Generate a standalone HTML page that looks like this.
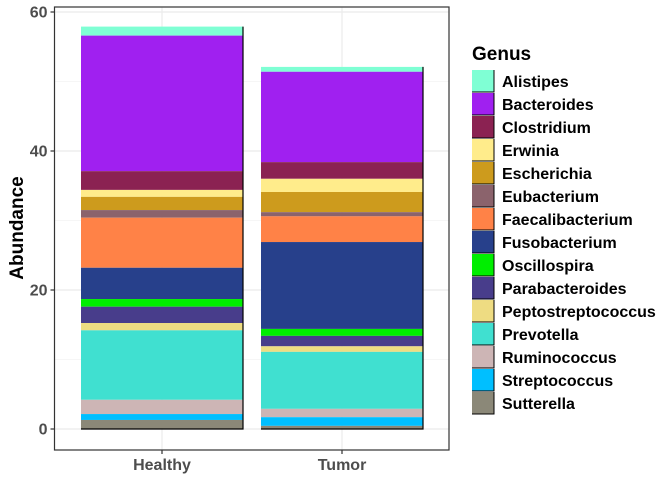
<!DOCTYPE html>
<html><head><meta charset="utf-8"><style>
body{margin:0;background:#fff;font-family:"Liberation Sans",sans-serif;}
</style></head><body>
<svg id="c" width="672" height="480" xmlns="http://www.w3.org/2000/svg"></svg>
<script>
const genera=["Alistipes","Bacteroides","Clostridium","Erwinia","Escherichia","Eubacterium","Faecalibacterium","Fusobacterium","Oscillospira","Parabacteroides","Peptostreptococcus","Prevotella","Ruminococcus","Streptococcus","Sutterella"];
const colors=["#7FFFD4","#A020F0","#8B2252","#FFEC8B","#CD9B1D","#8B636C","#FF8247","#27408B","#00EE00","#483D8B","#EEDC82","#40E0D0","#CDB5B5","#00BFFF","#8B8878"];
const groups=["Healthy","Tumor"];
const healthy=[1.3,19.5,2.7,1.0,1.9,1.1,7.2,4.5,1.1,2.35,1.05,10.0,2.05,0.85,1.3];
const tumor=[0.7,13.0,2.4,1.9,2.9,0.6,3.7,12.5,1.0,1.5,0.8,8.2,1.2,1.25,0.45];
const yTicks=[0,20,40,60];
const yMinor=[10,30,50];
const NS="http://www.w3.org/2000/svg";
const svg=document.getElementById('c');
function mk(t,a,p){const e=document.createElementNS(NS,t);for(const k in a)e.setAttribute(k,a[k]);(p||svg).appendChild(e);return e;}
const L=54.5,R=449,T=7,B=450;
const y=v=>429-6.95*v;
const xc=i=>162+180*i;
const bw=162;
const bg=mk('rect',{x:L,y:T,width:R-L,height:B-T,fill:'#fff'});


yMinor.forEach(v=>{const l=mk('line',{x1:L,x2:R,y1:y(v),y2:y(v),stroke:'#f3f3f3','stroke-width':0.8});

});
yTicks.forEach(v=>{const l=mk('line',{x1:L,x2:R,y1:y(v),y2:y(v),stroke:'#ebebeb','stroke-width':1.2});

});
groups.forEach((g,i)=>{const l=mk('line',{x1:xc(i),x2:xc(i),y1:T,y2:B,stroke:'#ebebeb','stroke-width':1.2});

});
[healthy,tumor].forEach((vals,gi)=>{
  let cum=vals.reduce((a,b)=>a+b,0);
  const x0=xc(gi)-bw/2;
  vals.forEach((v,k)=>{
    const top=cum, bot=cum-v; cum=bot;
    const r=mk('rect',{x:x0,y:y(top),width:bw,height:y(bot)-y(top),fill:colors[k]});
    
    
  });
  const tot=vals.reduce((a,b)=>a+b,0);
  const e=mk('path',{d:`M${x0+bw} ${y(tot)} V${y(0)} H${x0}`,stroke:'#000','stroke-width':1.2,fill:'none'});
  
  
});
const fr=mk('rect',{x:L,y:T,width:R-L,height:B-T,fill:'none',stroke:'#333','stroke-width':1.2});


yTicks.forEach(v=>{
  const t=mk('line',{x1:L-4,x2:L,y1:y(v),y2:y(v),stroke:'#333','stroke-width':1.2});
  
  
  const tx=mk('text',{x:L-7,y:y(v)+5.5,'text-anchor':'end','font-size':16,'font-weight':'bold',fill:'#4d4d4d'});
  tx.textContent=v;
  
  
});
groups.forEach((g,i)=>{
  const t=mk('line',{x1:xc(i),x2:xc(i),y1:B,y2:B+4,stroke:'#333','stroke-width':1.2});
  
  
  const tx=mk('text',{x:xc(i),y:470,'text-anchor':'middle','font-size':16,'font-weight':'bold',fill:'#4d4d4d'});
  tx.textContent=g;
  
  
});
const yt=mk('text',{x:0,y:0,transform:'translate(23,228) rotate(-90)','text-anchor':'middle','font-size':19,'font-weight':'bold',fill:'#000'});
yt.textContent='Abundance';


const lt=mk('text',{x:472,y:60,'font-size':19,'font-weight':'bold',fill:'#000'});
lt.textContent='Genus';


genera.forEach((g,k)=>{
  const gy=70+23*k;
  const grp=mk('g',{});
  
  
  mk('rect',{x:472,y:gy,width:22,height:22,fill:colors[k]},grp);
  mk('path',{d:`M494 ${gy} V${gy+22} H472`,stroke:'#000','stroke-width':1,fill:'none'},grp);
  const tx=mk('text',{x:502,y:gy+17,'font-size':16,'font-weight':'bold',fill:'#000'},grp);
  tx.textContent=g;
});
</script>
</body></html>
